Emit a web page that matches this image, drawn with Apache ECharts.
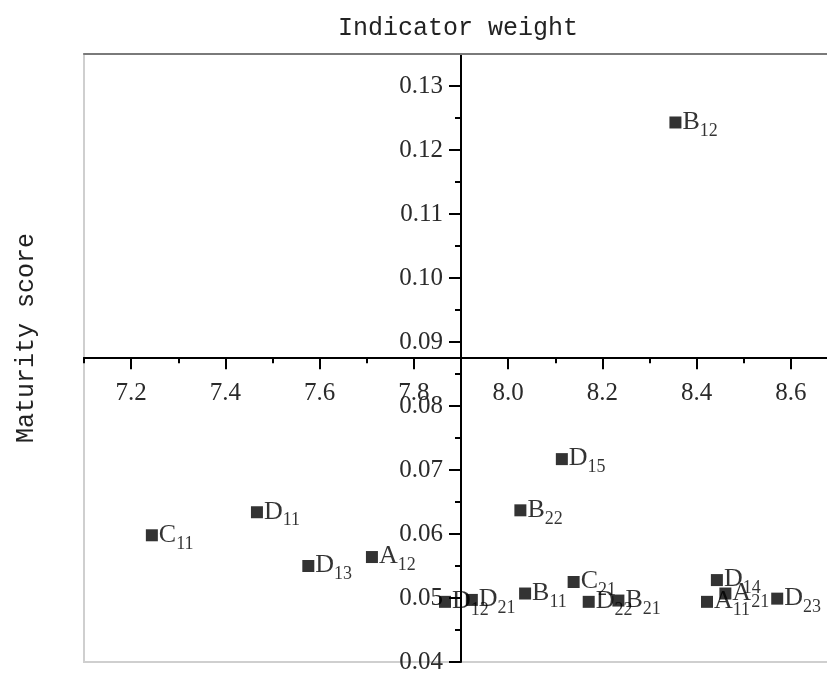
<!DOCTYPE html>
<html><head><meta charset="utf-8">
<script src="https://cdn.jsdelivr.net/npm/echarts@6/dist/echarts.min.js"></script>
<style>html,body{margin:0;padding:0;background:#fff}#c{width:827px;height:673px}</style>
</head><body><div id="c"></div>
<script>
// ---- data ----
const names = ['C11','D11','D13','A12','B12','D15','B22','D12','D21','B11','C21','D22','B21','A11','D14','A21','D23'];
const weights = [7.244,7.467,7.576,7.711,8.355,8.114,8.026,7.866,7.923,8.036,8.139,8.171,8.234,8.422,8.443,8.461,8.571];
const scores = [0.0598,0.0634,0.0550,0.0564,0.1243,0.0717,0.0637,0.0494,0.0497,0.0507,0.0525,0.0494,0.0496,0.0494,0.0528,0.0507,0.0499];
const xMajorTicks = [7.2,7.4,7.6,7.8,8.0,8.2,8.4,8.6];
const xMinorTicks = [7.1,7.3,7.5,7.7,7.9,8.1,8.3,8.5,8.7];
const yMajorTicks = [0.04,0.05,0.06,0.07,0.08,0.09,0.10,0.11,0.12,0.13];
const yMinorTicks = [0.045,0.055,0.065,0.075,0.085,0.095,0.105,0.115,0.125];
const xRange = [7.1, 8.7];
const yRange = [0.04, 0.135];
const crossX = 7.9, crossY = 0.0876;
const xTitle = 'Indicator weight';
const yTitle = 'Maturity score';

const chart = echarts.init(document.getElementById('c'), null, {renderer:'canvas'});
const tickFont = {fontFamily:'Liberation Serif', fontSize:25, color:'#2a2a2a'};
const data = weights.map((w,i)=>[w, scores[i], names[i]]);

function xAxisCfg(offset){
  return [
    {type:'value', min:xRange[0], max:xRange[1], position:'bottom', offset:offset,
     axisLine:{show:true, onZero:false, lineStyle:{color:'#000', width:2}},
     axisTick:{show:true, customValues:xMajorTicks, length:12, lineStyle:{color:'#000', width:2}},
     axisLabel:Object.assign({show:true, customValues:xMajorTicks, margin:24, formatter:v=>(+v).toFixed(1)}, tickFont),
     splitLine:{show:false}},
    {type:'value', min:xRange[0], max:xRange[1], position:'bottom', offset:offset,
     axisLine:{show:false, onZero:false},
     axisTick:{show:true, customValues:xMinorTicks, length:6, lineStyle:{color:'#000', width:2}},
     axisLabel:{show:false, customValues:xMinorTicks},
     splitLine:{show:false}},
    {type:'value', min:xRange[0], max:xRange[1], position:'top',
     axisLine:{show:true, onZero:false, lineStyle:{color:'#7a7a7a', width:2}},
     axisTick:{show:false}, axisLabel:{show:false}, splitLine:{show:false}}
  ];
}
function yAxisCfg(offset){
  return [
    {type:'value', min:yRange[0], max:yRange[1], position:'left', offset:offset,
     axisLine:{show:true, onZero:false, lineStyle:{color:'#000', width:2}},
     axisTick:{show:true, customValues:yMajorTicks, length:12, lineStyle:{color:'#000', width:2}},
     axisLabel:Object.assign({show:true, customValues:yMajorTicks, margin:18, formatter:v=>(+v).toFixed(2)}, tickFont),
     splitLine:{show:false}},
    {type:'value', min:yRange[0], max:yRange[1], position:'left', offset:offset,
     axisLine:{show:false, onZero:false},
     axisTick:{show:true, customValues:yMinorTicks, length:6, lineStyle:{color:'#000', width:2}},
     axisLabel:{show:false, customValues:yMinorTicks},
     splitLine:{show:false}}
  ];
}

const option = {
  animation:false,
  backgroundColor:'#fff',
  grid:{left:84, top:54, right:-11, bottom:11, show:true, borderColor:'#cfcfcf', borderWidth:2,
        containLabel:false, outerBoundsMode:'none'},
  xAxis:xAxisCfg(0),
  yAxis:yAxisCfg(0),
  graphic:[
    {type:'text', x:458, y:28, style:{text:xTitle, fontFamily:'Liberation Mono', fontSize:25, fill:'#222', align:'center', verticalAlign:'middle'}},
    {type:'text', x:26, y:338, rotation:Math.PI/2, style:{text:yTitle, fontFamily:'Liberation Mono', fontSize:25, fill:'#222', align:'center', verticalAlign:'middle'}}
  ],
  series:[{
    type:'scatter', xAxisIndex:0, yAxisIndex:0,
    symbol:'rect', symbolSize:12,
    itemStyle:{color:'#000'},
    data:data,
    label:{show:true, position:'right', distance:1, offset:[0,2],
      formatter:p=>'{m|'+p.data[2].charAt(0)+'}{s|'+p.data[2].slice(1)+'}',
      rich:{
        m:{fontFamily:'Liberation Serif', fontSize:26, color:'#000', verticalAlign:'bottom', padding:[0,0,5,0]},
        s:{fontFamily:'Liberation Serif', fontSize:18, color:'#000', verticalAlign:'bottom'}
      }}
  }]
};
chart.setOption(option);
const px = chart.convertToPixel({xAxisIndex:0}, crossX);
const py = chart.convertToPixel({yAxisIndex:0}, crossY);
const gridLeftPx = chart.convertToPixel({xAxisIndex:0}, xRange[0]);
const gridBottomPx = chart.convertToPixel({yAxisIndex:0}, yRange[0]);
chart.setOption({xAxis:xAxisCfg(-(gridBottomPx - py)), yAxis:yAxisCfg(-(px - gridLeftPx))});
</script>
</body></html>
